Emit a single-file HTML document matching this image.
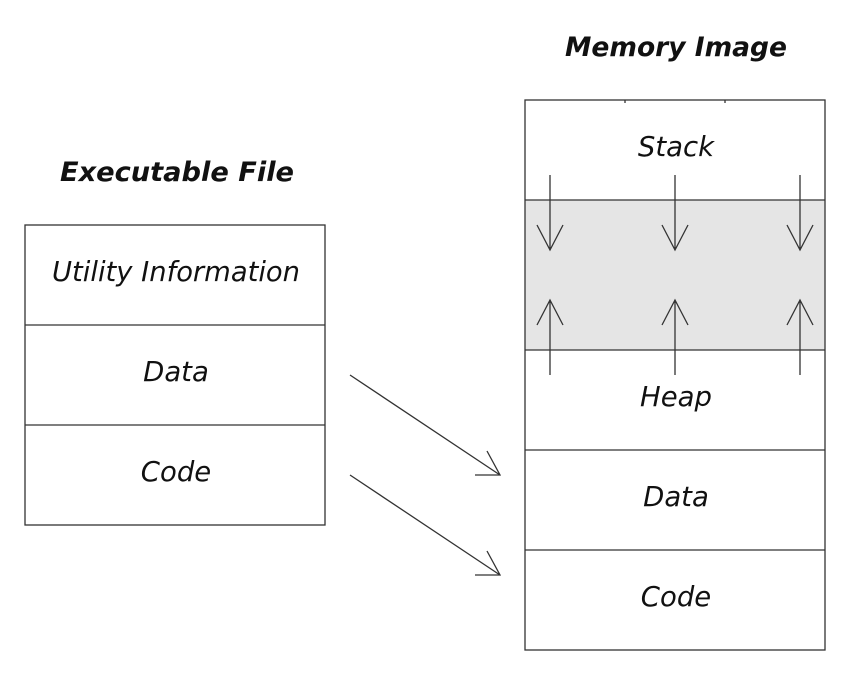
<!DOCTYPE html>
<html><head><style>body{margin:0;background:#fff}</style></head><body>
<svg width="850" height="675" xmlns="http://www.w3.org/2000/svg" font-family="DejaVu Sans, sans-serif" font-style="oblique">
<rect x="525" y="200" width="300" height="150" fill="#e5e5e5"/>
<g fill="none" stroke="#333" stroke-width="1.3">
<rect x="25" y="225" width="300" height="300"/>
<line x1="25" y1="325" x2="325" y2="325"/><line x1="25" y1="425" x2="325" y2="425"/>
<rect x="525" y="100" width="300" height="550"/>
<line x1="525" y1="200" x2="825" y2="200"/><line x1="525" y1="350" x2="825" y2="350"/>
<line x1="525" y1="450" x2="825" y2="450"/><line x1="525" y1="550" x2="825" y2="550"/>
<line x1="625" y1="100" x2="625" y2="103"/><line x1="725" y1="100" x2="725" y2="103"/>
<g>
<path d="M550 175V250M537 225L550 250L563 225"/>
<path d="M675 175V250M662 225L675 250L688 225"/>
<path d="M800 175V250M787 225L800 250L813 225"/>
<path d="M550 375V300M537 325L550 300L563 325"/>
<path d="M675 375V300M662 325L675 300L688 325"/>
<path d="M800 375V300M787 325L800 300L813 325"/>
</g>
<path d="M350 375L500 475M475 475H500L487 451"/>
<path d="M350 475L500 575M475 575H500L487 551"/>
</g>
<g font-size="27.5" text-anchor="middle" fill="#111">
<text x="176" y="281" textLength="248" lengthAdjust="spacingAndGlyphs">Utility Information</text>
<text x="176" y="381">Data</text>
<text x="176" y="481">Code</text>
<text x="676" y="156">Stack</text>
<text x="676" y="406">Heap</text>
<text x="676" y="506">Data</text>
<text x="676" y="606">Code</text>
<text x="177" y="181" font-weight="bold" font-size="27" textLength="234" lengthAdjust="spacingAndGlyphs">Executable File</text>
<text x="676" y="56" font-weight="bold" font-size="26.5" textLength="222" lengthAdjust="spacingAndGlyphs">Memory Image</text>
</g>
</svg>
</body></html>
